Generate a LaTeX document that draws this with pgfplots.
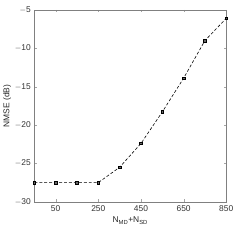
\documentclass[border=0pt]{standalone}
\usepackage{fontspec}
\setmainfont{Liberation Sans}
\usepackage{pgfplots}
\pgfplotsset{compat=1.18}
\definecolor{axgray}{gray}{0.5}
\definecolor{mk}{gray}{0.4}
\begin{document}
\begin{tikzpicture}
\begin{axis}[
  scale only axis, width=194pt, height=194pt,
  xmin=-50, xmax=850, ymin=-30, ymax=-5,
  xtick={50,250,450,650,850},
  ytick={-30,-25,-20,-15,-10,-5},
  tick align=inside, major tick length=2.5pt,
  axis line style={axgray, line width=0.6pt},
  tick style={axgray!70},
  every tick label/.style={font=\fontsize{8.5}{9}\selectfont, text=black!80},
  /pgf/number format/assume math mode=true,
  yticklabel={\ifdim\tick pt<0pt $-$\pgfmathparse{abs(\tick)}\pgfmathprintnumber[int detect]{\pgfmathresult}\else\pgfmathprintnumber{\tick}\fi},
  xlabel={N\textsubscript{MD}+N\textsubscript{SD}},
  ylabel={NMSE (dB)},
  label style={font=\fontsize{8.5}{9}\selectfont, text=black!85},
  xlabel style={yshift=1pt},
  ylabel style={yshift=-3pt},
  clip=false,
]
\addplot[black, densely dashed, line width=0.6pt, mark=square*, mark size=1.3pt,
  mark options={solid, fill=mk, draw=black}]
coordinates {
(-50,-27.5) (50,-27.5) (150,-27.5) (250,-27.5) (350,-25.5) (450,-22.4)
(550,-18.3) (650,-13.9) (750,-9.0) (850,-6.1)
};
\end{axis}
\path[use as bounding box] ([shift={(-32pt,-38pt)}]current axis.south west) rectangle ([shift={(23pt,10pt)}]current axis.north east);
\end{tikzpicture}
\end{document}
